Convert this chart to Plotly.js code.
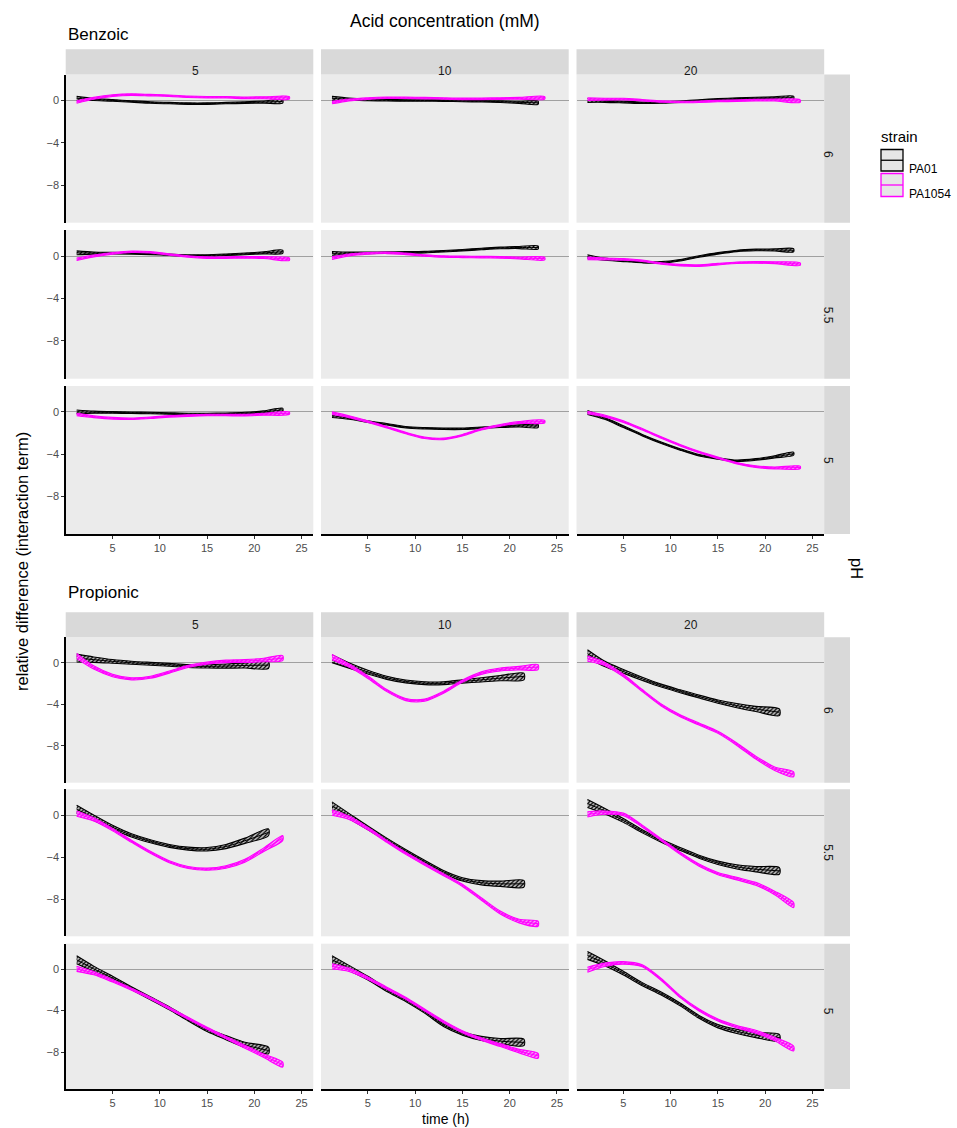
<!DOCTYPE html>
<html>
<head>
<meta charset="utf-8">
<script src="https://cdn.plot.ly/plotly-3.0.1.min.js"></script>
<style>html,body{margin:0;padding:0;background:#fff}</style>
</head>
<body>
<div id="chart" style="width:957px;height:1128px"></div>
<script>
// facets
var acids = ['Benzoic', 'Propionic'];
var concs = ['5', '10', '20'];
var phs = ['6', '5.5', '5'];
var strains = ['PA01', 'PA1054'];

// time grids (h)
var tBenA = [1.2, 3, 5, 7, 9, 11, 13, 15, 17, 19, 21, 23];
var tBenB = [1.2, 3, 5, 7, 9, 11, 13, 15, 17, 19, 21, 23.7];
var tProA = [1.2, 3, 5, 7, 9, 11, 13, 15, 17, 19, 21.5];
var tProB = [1.2, 3, 5, 7, 9, 11, 13, 15, 17, 19, 21, 23];

// ribbon half widths
var benHwA = [0.18, 0.1, 0.08, 0.07, 0.07, 0.07, 0.07, 0.07, 0.07, 0.08, 0.1, 0.15];
var benHwB = [0.12, 0.09, 0.08, 0.07, 0.07, 0.07, 0.07, 0.07, 0.07, 0.08, 0.09, 0.12];
var proHwA = [0.38, 0.26, 0.18, 0.15, 0.14, 0.14, 0.14, 0.16, 0.2, 0.25, 0.32];
var proHwB = [0.25, 0.16, 0.12, 0.1, 0.1, 0.1, 0.1, 0.1, 0.12, 0.14, 0.17, 0.24];

// Benzoic, pH 6
var ben6_5A = [0.2, 0.1, 0.0, -0.1, -0.2, -0.25, -0.3, -0.3, -0.25, -0.2, -0.15, -0.1];
var ben6_5B = [-0.15, 0.2, 0.45, 0.55, 0.5, 0.45, 0.35, 0.3, 0.3, 0.25, 0.25, 0.25];
var ben6_10A = [0.2, 0.12, 0.05, 0.02, 0.0, 0.0, -0.02, -0.05, -0.08, -0.12, -0.18, -0.22];
var ben6_10B = [-0.2, 0.05, 0.18, 0.25, 0.25, 0.22, 0.18, 0.15, 0.15, 0.18, 0.2, 0.25];
var ben6_20A = [0.0, -0.08, -0.15, -0.22, -0.2, -0.12, 0.0, 0.1, 0.17, 0.22, 0.25, 0.25];
var ben6_20B = [0.12, 0.12, 0.12, 0.02, -0.1, -0.15, -0.12, -0.06, -0.02, 0.02, 0.03, -0.06];
// Benzoic, pH 5.5
var ben55_5A = [0.3, 0.28, 0.27, 0.25, 0.2, 0.12, 0.05, 0.05, 0.12, 0.2, 0.3, 0.4];
var ben55_5B = [-0.3, 0.0, 0.25, 0.4, 0.35, 0.15, -0.05, -0.15, -0.15, -0.12, -0.15, -0.3];
var ben55_10A = [0.25, 0.27, 0.3, 0.32, 0.34, 0.37, 0.45, 0.55, 0.66, 0.76, 0.8, 0.8];
var ben55_10B = [-0.2, 0.1, 0.25, 0.3, 0.2, 0.05, -0.05, -0.08, -0.1, -0.12, -0.18, -0.25];
var ben55_20A = [-0.06, -0.3, -0.45, -0.57, -0.6, -0.4, -0.05, 0.25, 0.48, 0.57, 0.57, 0.54];
var ben55_20B = [-0.22, -0.28, -0.32, -0.45, -0.7, -0.86, -0.9, -0.76, -0.63, -0.6, -0.63, -0.76];
// Benzoic, pH 5
var ben5_5A = [0.0, -0.03, -0.05, -0.08, -0.1, -0.15, -0.2, -0.2, -0.17, -0.12, 0.0, 0.2];
var ben5_5B = [-0.25, -0.45, -0.6, -0.65, -0.55, -0.42, -0.35, -0.3, -0.3, -0.3, -0.22, -0.12];
var ben5_10A = [-0.35, -0.6, -0.92, -1.17, -1.45, -1.55, -1.6, -1.6, -1.5, -1.4, -1.33, -1.33];
var ben5_10B = [-0.12, -0.45, -0.92, -1.45, -2.0, -2.45, -2.55, -2.2, -1.65, -1.27, -1.0, -0.92];
var ben5_20A = [-0.06, -0.6, -1.4, -2.2, -2.92, -3.55, -4.1, -4.4, -4.63, -4.5, -4.25, -3.95];
var ben5_20B = [-0.06, -0.38, -0.92, -1.65, -2.42, -3.15, -3.8, -4.35, -4.85, -5.17, -5.3, -5.25];

// Propionic, pH 6
var pro6_5A = [0.45, 0.3, 0.13, 0.0, -0.1, -0.2, -0.32, -0.35, -0.32, -0.26, -0.23];
var pro6_5B = [0.65, -0.45, -1.22, -1.55, -1.4, -0.9, -0.35, -0.03, 0.13, 0.16, 0.26, 0.45];
var pro6_10A = [0.39, -0.26, -0.9, -1.45, -1.8, -1.97, -1.97, -1.8, -1.65, -1.48, -1.32];
var pro6_10B = [0.55, -0.26, -1.39, -2.68, -3.55, -3.6, -2.84, -1.77, -1.0, -0.65, -0.52, -0.42];
var pro6_20A = [0.87, -0.1, -0.84, -1.55, -2.2, -2.74, -3.26, -3.74, -4.13, -4.45, -4.77];
var pro6_20B = [0.39, -0.1, -1.23, -2.68, -4.06, -5.1, -5.9, -6.7, -7.84, -9.13, -10.2, -10.74];
// Propionic, pH 5.5
var pro55_5A = [0.55, -0.26, -1.16, -1.94, -2.5, -2.94, -3.2, -3.26, -3.0, -2.45, -1.65];
var pro55_5B = [0.13, -0.42, -1.39, -2.5, -3.55, -4.45, -5.0, -5.16, -4.95, -4.35, -3.3, -2.2];
var pro55_10A = [0.87, -0.1, -1.23, -2.35, -3.42, -4.45, -5.42, -6.13, -6.45, -6.55, -6.55];
var pro55_10B = [0.23, -0.26, -1.29, -2.5, -3.65, -4.68, -5.68, -6.7, -8.0, -9.29, -10.1, -10.35];
var pro55_20A = [1.1, 0.39, -0.52, -1.55, -2.45, -3.23, -3.97, -4.55, -4.94, -5.16, -5.32];
var pro55_20B = [0.06, 0.23, 0.06, -1.06, -2.35, -3.65, -4.77, -5.58, -6.06, -6.55, -7.42, -8.58];
// Propionic, pH 5
var pro5_5A = [0.9, 0.03, -0.87, -1.84, -2.8, -3.77, -4.85, -5.85, -6.6, -7.3, -7.84];
var pro5_5B = [0.03, -0.39, -1.13, -1.94, -2.8, -3.77, -4.74, -5.7, -6.6, -7.48, -8.35, -9.2];
var pro5_10A = [0.9, 0.1, -0.87, -2.0, -2.97, -4.1, -5.39, -6.2, -6.68, -6.94, -7.06];
var pro5_10B = [0.26, -0.06, -0.87, -1.84, -2.8, -3.94, -5.06, -6.03, -6.74, -7.32, -7.9, -8.35];
var pro5_20A = [1.32, 0.58, -0.39, -1.45, -2.35, -3.4, -4.6, -5.5, -6.0, -6.35, -6.61];
var pro5_20B = [-0.06, 0.42, 0.6, 0.32, -1.0, -2.65, -3.94, -4.9, -5.55, -6.03, -6.74, -7.65];

// axis ticks
var xTicks = [5, 10, 15, 20, 25];
var yTicks = [0, -4, -8];
var yTickText = ['0', '\u22124', '\u22128'];

var panels = [
  [[ben6_5A, ben6_5B], [ben6_10A, ben6_10B], [ben6_20A, ben6_20B],
   [ben55_5A, ben55_5B], [ben55_10A, ben55_10B], [ben55_20A, ben55_20B],
   [ben5_5A, ben5_5B], [ben5_10A, ben5_10B], [ben5_20A, ben5_20B]],
  [[pro6_5A, pro6_5B], [pro6_10A, pro6_10B], [pro6_20A, pro6_20B],
   [pro55_5A, pro55_5B], [pro55_10A, pro55_10B], [pro55_20A, pro55_20B],
   [pro5_5A, pro5_5B], [pro5_10A, pro5_10B], [pro5_20A, pro5_20B]]
];
var times = [[tBenA, tBenB], [tProA, tProB]];
var widths = [[benHwA, benHwB], [proHwA, proHwB]];

// layout in pixels
var W = 957, H = 1128;
var FONT = 'Liberation Sans, Arial, sans-serif';
var cols = [[65.7, 313.3], [321, 568.7], [576.5, 824.2]];
var rowSets = [
  [[74.5, 222.7], [230, 378.7], [386, 534]],
  [[637.3, 782.7], [789.3, 936.3], [943.7, 1089]]
];
var stripTop = [[49.3, 74.5], [612.3, 637.3]];
var titleY = [34, 592];
var sideStrip = [824.2, 850];

function px(x) { return x / W; }
function py(y) { return 1 - y / H; }

var styles = [
  { line: '#000000', fg: '#000000', bg: '#bdbdbd', sol: 0.4 },
  { line: '#ff00ff', fg: '#ff00ff', bg: '#f7a6f7', sol: 0.5 }
];

function ribbon(t, m, hw, n, s) {
  var up = m.map(function (v, i) { return v + hw[i]; });
  var lo = m.map(function (v, i) { return v - hw[i]; });
  return {
    x: t.concat(t.slice().reverse()),
    y: up.concat(lo.reverse()),
    xaxis: 'x' + n, yaxis: 'y' + n,
    type: 'scatter', mode: 'lines', fill: 'toself',
    line: { color: s.line, width: 1.1, shape: 'spline', smoothing: 0.8 },
    fillcolor: s.bg,
    fillpattern: { shape: '/', fgcolor: s.fg, bgcolor: s.bg, size: 3, solidity: s.sol },
    hoverinfo: 'skip'
  };
}

function centre(t, m, n, s) {
  return {
    x: t, y: m, xaxis: 'x' + n, yaxis: 'y' + n,
    type: 'scatter', mode: 'lines',
    line: { color: s.line, width: 1, shape: 'spline', smoothing: 0.8 },
    hoverinfo: 'skip'
  };
}

var data = [];
var layout = {
  width: W, height: H,
  margin: { l: 0, r: 0, t: 0, b: 0 },
  paper_bgcolor: '#ffffff',
  plot_bgcolor: '#ebebeb',
  showlegend: false,
  font: { family: FONT, color: '#1a1a1a' },
  shapes: [], annotations: []
};

for (var g = 0; g < 2; g++) {
  for (var r = 0; r < 3; r++) {
    for (var c = 0; c < 3; c++) {
      var n = g * 9 + r * 3 + c + 1;
      var pair = panels[g][r * 3 + c];
      for (var k = 0; k < 2; k++) {
        data.push(ribbon(times[g][k], pair[k], widths[g][k], n, styles[k]));
        data.push(centre(times[g][k], pair[k], n, styles[k]));
      }
      var bottom = r === 2, left = c === 0;
      layout['xaxis' + n] = {
        domain: [px(cols[c][0]), px(cols[c][1])],
        range: [0.04, 26.24], anchor: 'y' + n,
        showgrid: false, zeroline: false,
        tickvals: xTicks,
        showline: bottom, linecolor: '#000', linewidth: 1.5,
        ticks: bottom ? 'outside' : '', ticklen: 3, tickcolor: '#333',
        showticklabels: bottom,
        tickfont: { size: 11, color: '#4d4d4d', family: FONT },
        fixedrange: true
      };
      layout['yaxis' + n] = {
        domain: [py(rowSets[g][r][1]), py(rowSets[g][r][0])],
        range: [-11.55, 2.45], anchor: 'x' + n,
        showgrid: false,
        zeroline: true, zerolinecolor: '#a0a0a0', zerolinewidth: 1,
        tickvals: yTicks, ticktext: yTickText,
        showline: left, linecolor: '#000', linewidth: 1.5,
        ticks: left ? 'outside' : '', ticklen: 3, tickcolor: '#333',
        showticklabels: left,
        tickfont: { size: 11, color: '#4d4d4d', family: FONT },
        fixedrange: true
      };
    }
    // pH strip on the right
    var ry = rowSets[g][r];
    layout.shapes.push({
      type: 'rect', xref: 'paper', yref: 'paper', layer: 'below',
      x0: px(sideStrip[0]), x1: px(sideStrip[1]), y0: py(ry[1]), y1: py(ry[0]),
      fillcolor: '#d9d9d9', line: { width: 0 }
    });
    layout.annotations.push({
      xref: 'paper', yref: 'paper', showarrow: false, textangle: 90,
      x: px((sideStrip[0] + sideStrip[1]) / 2), y: py((ry[0] + ry[1]) / 2),
      text: phs[r], font: { size: 12, color: '#1a1a1a' }
    });
  }
  // concentration strips on top
  for (var c2 = 0; c2 < 3; c2++) {
    layout.shapes.push({
      type: 'rect', xref: 'paper', yref: 'paper', layer: 'below',
      x0: px(cols[c2][0]), x1: px(cols[c2][1]),
      y0: py(stripTop[g][1]), y1: py(stripTop[g][0]),
      fillcolor: '#d9d9d9', line: { width: 0 }
    });
    layout.annotations.push({
      xref: 'paper', yref: 'paper', showarrow: false,
      x: px((cols[c2][0] + cols[c2][1]) / 2), y: py((stripTop[g][0] + stripTop[g][1]) / 2),
      text: concs[c2], font: { size: 12, color: '#1a1a1a' }
    });
  }
  layout.annotations.push({
    xref: 'paper', yref: 'paper', showarrow: false,
    x: px(66), y: py(titleY[g]), xanchor: 'left', yanchor: 'middle',
    text: acids[g], font: { size: 17, color: '#000' }
  });
}

// figure labels
layout.annotations.push(
  { xref: 'paper', yref: 'paper', showarrow: false, x: px(445), y: py(9),
    text: 'Acid concentration (mM)', font: { size: 17.5, color: '#000' } },
  { xref: 'paper', yref: 'paper', showarrow: false, x: px(445), y: 0,
    yanchor: 'bottom', borderpad: 0,
    text: 'time (h)', font: { size: 14, color: '#000' } },
  { xref: 'paper', yref: 'paper', showarrow: false, x: px(11), y: py(562), textangle: -90,
    text: 'relative difference (interaction term)', font: { size: 16.5, color: '#000' } },
  { xref: 'paper', yref: 'paper', showarrow: false, x: px(868), y: py(568), textangle: 90,
    text: 'pH', font: { size: 16.5, color: '#000' } }
);

// legend
var keyY = [[149.5, 171], [173.5, 196.5]];
layout.annotations.push({
  xref: 'paper', yref: 'paper', showarrow: false, xanchor: 'left', yanchor: 'bottom',
  x: px(879), y: py(147), text: 'strain', font: { size: 15, color: '#000' }
});
for (var s = 0; s < 2; s++) {
  var ky = keyY[s];
  layout.shapes.push({
    type: 'rect', xref: 'paper', yref: 'paper',
    x0: px(881), x1: px(903), y0: py(ky[1]), y1: py(ky[0]),
    fillcolor: '#e6e6e6', line: { color: styles[s].line, width: 1.3 }
  });
  layout.shapes.push({
    type: 'line', xref: 'paper', yref: 'paper',
    x0: px(881), x1: px(903), y0: py((ky[0] + ky[1]) / 2), y1: py((ky[0] + ky[1]) / 2),
    line: { color: styles[s].line, width: 1.3 }
  });
  layout.annotations.push({
    xref: 'paper', yref: 'paper', showarrow: false, xanchor: 'left',
    x: px(907), y: py((ky[0] + ky[1]) / 2), text: strains[s],
    font: { size: 12, color: '#000' }
  });
}

Plotly.newPlot('chart', data, layout, { staticPlot: true, displayModeBar: false });
</script>
</body>
</html>
